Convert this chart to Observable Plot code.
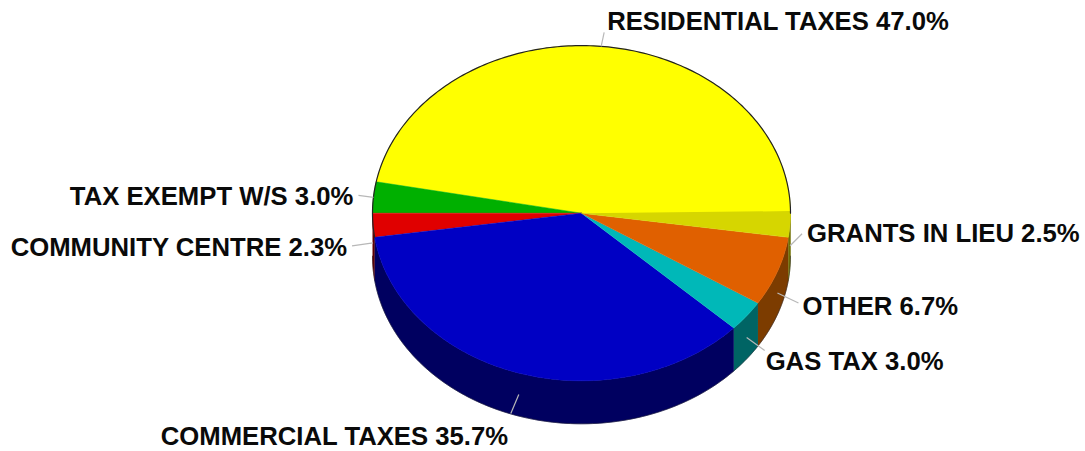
<!DOCTYPE html>
<html>
<head>
<meta charset="utf-8">
<script src="https://cdn.jsdelivr.net/npm/d3@7"></script>
<script src="https://cdn.jsdelivr.net/npm/@observablehq/plot@0.6"></script>
<style>html,body{margin:0;padding:0;background:#fff}svg{display:block}</style>
</head>
<body>
<div id="chart"></div>
<script>
// Data, counter-clockwise from the 3 o'clock position
const categories = ["RESIDENTIAL TAXES","TAX EXEMPT W/S","COMMUNITY CENTRE","COMMERCIAL TAXES","GAS TAX","OTHER","GRANTS IN LIEU"];
const shares = [47.0,3.0,2.3,35.7,3.0,6.7,2.5];
const topColors = ["#ffff00","#00b000","#e00000","#0000c4","#00b8b8","#e06000","#d6d600"];
const wallColors = ["#707000","#005000","#600000","#000060","#006464","#7c3c00","#6e6e00"];
// Label layout: leader start lift, leader direction and text offset in pixels
const leaderLift = [0,0,4,0,0,0,0];
const leaderOut = [[3,-14],[-15,-2],[-21,3],[-8,19],[18,13],[21,10],[12,-12]];
const labelOffset = [[3,-11],[-5,1],[-5,2],[-350,23],[1,11],[4,4],[5,0]];

const W = 1085, H = 451, cx = 581, cy = 212.7, rx = 209, ry = 167.6, depth = 43;
const depthU = depth / ry;
const rad = d => d * Math.PI / 180;
const arcPts = (a0, a1) => {
  const n = Math.max(2, Math.ceil((a1 - a0) / 1) + 1);
  return d3.range(n).map(i => a0 + (a1 - a0) * i / (n - 1));
};
let acc = 0;
const slices = categories.map((name, i) => {
  const a0 = acc / 100 * 360; acc += shares[i];
  const a1 = acc / 100 * 360;
  return {name, share: shares[i], a0, a1, mid: (a0 + a1) / 2, top: topColors[i], wall: wallColors[i], i};
});

const topPts = [], wallPts = [];
slices.forEach(s => {
  topPts.push({z: s.name, c: s.top, x: 0, y: 0});
  arcPts(s.a0, s.a1).forEach(a => topPts.push({z: s.name, c: s.top, x: Math.cos(rad(a)), y: Math.sin(rad(a))}));
  const w0 = Math.max(s.a0, 180), w1 = s.a1;
  if (w1 > w0) {
    const arc = arcPts(w0, w1);
    arc.forEach(a => wallPts.push({z: s.name, c: s.wall, x: Math.cos(rad(a)), y: Math.sin(rad(a))}));
    arc.slice().reverse().forEach(a => wallPts.push({z: s.name, c: s.wall, x: Math.cos(rad(a)), y: Math.sin(rad(a)) - depthU}));
  }
});
const rim = arcPts(0, 188.3).map(a => ({x: Math.cos(rad(a)), y: Math.sin(rad(a))}));
const rimLow = arcPts(180, 360).map(a => ({x: Math.cos(rad(a)), y: Math.sin(rad(a)) - depthU}));

const leaders = slices.map(s => {
  const sn = Math.sin(rad(s.mid));
  const x1 = Math.cos(rad(s.mid));
  const y1 = sn + (sn < 0 ? -depthU / 2 : 0) + leaderLift[s.i] / ry;
  const [ox, oy] = leaderOut[s.i];
  const x2 = x1 + ox / rx, y2 = y1 - oy / ry;
  const [lx, ly] = labelOffset[s.i];
  return {x1, y1, x2, y2, lx: x2 + lx / rx, ly: y2 - ly / ry,
    label: `${s.name} ${s.share.toFixed(1)}%`, right: s.i === 1 || s.i === 2};
});

const textOpts = {x: "lx", y: "ly", text: "label", fontFamily: "Liberation Sans", fontWeight: "bold", fontSize: 25.7, fill: "#0a0a0a", lineAnchor: "middle"};
const plot = Plot.plot({
  width: W, height: H, margin: 0,
  x: {domain: [(0 - cx) / rx, (W - cx) / rx], range: [0, W], axis: null},
  y: {domain: [(cy - H) / ry, cy / ry], range: [H, 0], axis: null},
  color: {type: "identity"},
  marks: [
    Plot.line(wallPts, {x: "x", y: "y", z: "z", fill: "c", stroke: "c", strokeWidth: 0.5, curve: "linear"}),
    Plot.line(rimLow, {x: "x", y: "y", stroke: "#20202a", strokeWidth: 0.5}),
    Plot.line(topPts, {x: "x", y: "y", z: "z", fill: "c", stroke: "c", strokeWidth: 0.5, curve: "linear"}),
    Plot.line(rim, {x: "x", y: "y", stroke: "#222", strokeWidth: 1.2}),
    Plot.link(leaders, {x1: "x1", y1: "y1", x2: "x2", y2: "y2", stroke: "#b8b8b8", strokeWidth: 1.2}),
    Plot.text(leaders.filter(d => !d.right), {...textOpts, textAnchor: "start"}),
    Plot.text(leaders.filter(d => d.right), {...textOpts, textAnchor: "end"})
  ]
});
document.getElementById("chart").appendChild(plot);
</script>
</body>
</html>
